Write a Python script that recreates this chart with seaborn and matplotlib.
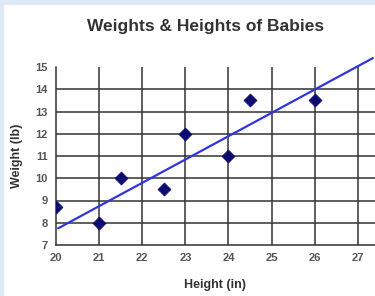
import matplotlib
matplotlib.use("Agg")
import matplotlib.pyplot as plt
import seaborn as sns
import pandas as pd

# data
heights = [20, 21, 21.5, 22.5, 23, 24, 24.5, 26]
weights = [8.7, 8.0, 10.0, 9.5, 12.0, 11.0, 13.5, 13.5]
# trend line end points (it runs past the plot edge)
trend_x = [20.05, 27.35]
trend_y = [7.75, 15.4]
x_ticks = [20, 21, 22, 23, 24, 25, 26, 27]
y_ticks = [7, 8, 9, 10, 11, 12, 13, 14, 15]

sns.set_style("white")
plt.rcParams['font.family'] = ['Liberation Sans', 'DejaVu Sans']

fig = plt.figure(figsize=(3.75, 2.96), dpi=100, facecolor='#dde9f6')
# white panel inside the light blue frame
fig.patches.append(plt.Rectangle((4 / 375, 0), 1, 1 - 5 / 296, transform=fig.transFigure,
                                 facecolor='white', edgecolor='none', zorder=-10))

ax = fig.add_axes([56 / 375, 51 / 296, 319 / 375, 178 / 296])
ax.set_facecolor('white')

df = pd.DataFrame({'Height': heights, 'Weight': weights})
line_df = pd.DataFrame({'x': trend_x, 'y': trend_y})

sns.lineplot(data=line_df, x='x', y='y', ax=ax, color='#3036dc', linewidth=1.6,
             clip_on=False, zorder=3)
sns.scatterplot(data=df, x='Height', y='Weight', ax=ax, marker='D', s=44,
                color='#0b0b70', edgecolor='#0b0b70', linewidth=0.5, zorder=4)

ax.set_xlim(20, 27.4)
ax.set_ylim(7, 15)
ax.set_xticks(x_ticks)
ax.set_yticks(y_ticks)

# grid lines (none at the axis lines and none at 15)
for xv in x_ticks[1:]:
    ax.axvline(xv, color='#333333', linewidth=1.1, zorder=1)
for yv in y_ticks[1:-1]:
    ax.axhline(yv, color='#333333', linewidth=1.1, zorder=1)

for side in ['top', 'right']:
    ax.spines[side].set_visible(False)
for side in ['left', 'bottom']:
    ax.spines[side].set_color('#333333')
    ax.spines[side].set_linewidth(1.1)

ax.tick_params(axis='both', direction='out', length=3, width=1, color='#333333',
               labelsize=8, labelcolor='#555555', pad=3)
for lab in ax.get_xticklabels() + ax.get_yticklabels():
    lab.set_fontweight('bold')

ax.set_xlabel('Height (in)', fontsize=9, fontweight='bold', color='#333333', labelpad=11)
ax.set_ylabel('Weight (lb)', fontsize=9, fontweight='bold', color='#333333', labelpad=9)
fig.text(206 / 375, 1 - 27 / 296, 'Weights & Heights of Babies', ha='center', va='center',
         fontsize=12.5, fontweight='bold', color='#333333')

fig.savefig('out.png', dpi=100, facecolor=fig.get_facecolor())
